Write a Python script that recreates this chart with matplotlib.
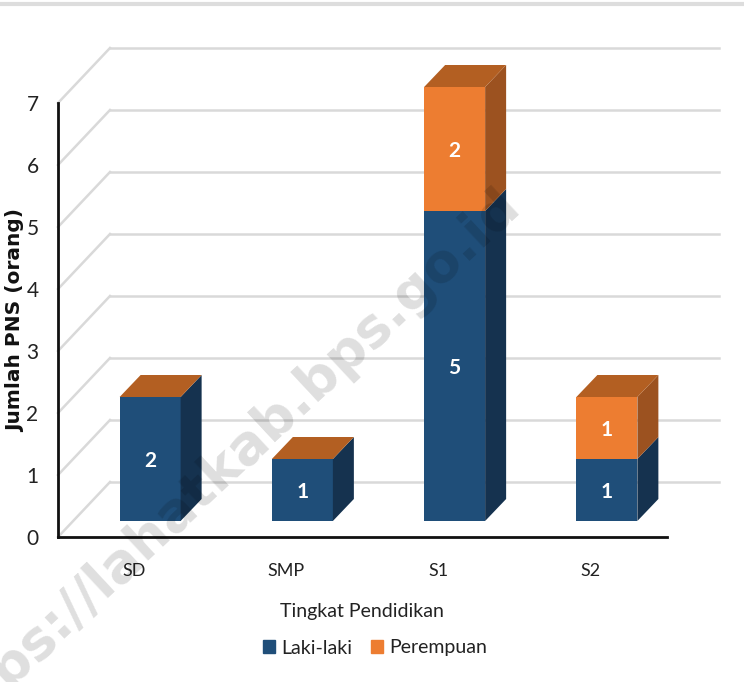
import matplotlib
matplotlib.use('Agg')
import matplotlib.pyplot as plt
from matplotlib.patches import Polygon
from matplotlib.transforms import ScaledTranslation

categories = ['SD', 'SMP', 'S1', 'S2']
laki_laki = [2, 1, 5, 1]
perempuan = [0, 0, 2, 1]
y_ticks = [0, 1, 2, 3, 4, 5, 6, 7]

W, H = 744, 682
plt.rcParams['font.family'] = ['Lato', 'DejaVu Sans']

fig = plt.figure(figsize=(W / 100, H / 100), dpi=100)
# axes box taken from the front axis lines, in pixels
ax = fig.add_axes([58 / W, 1 - 537 / H, 609 / W, 434 / H])
ax.set_xlim(-0.5, 3.5)
ax.set_ylim(0, 7)
ax.patch.set_alpha(0)

px = ax.get_window_extent().width / 4
py = ax.get_window_extent().height / 7


def shifted(dx, dy):
    # pixel shift for the fake 3d look
    return ax.transData + ScaledTranslation(dx / 100, dy / 100, fig.dpi_scale_trans)


# back wall gridlines and the slanted floor/wall lines
wall_dx, wall_dy = 52, 55
wall = shifted(wall_dx, wall_dy)
for v in y_ticks:
    ax.plot([-0.5, 3.5], [v, v], color='#d9d9d9', lw=1.8, transform=wall, clip_on=False, zorder=1)
    ax.plot([-0.5, -0.5 + wall_dx / px], [v, v + wall_dy / py], color='#d9d9d9', lw=1.8,
            clip_on=False, zorder=1)

# bars
front_dx, front_dy = 16, 16
depth_dx, depth_dy = 21, 22
bar_w = 61 / px
front = shifted(front_dx, front_dy)
label_pos = shifted(front_dx, front_dy - 2)
ddx = depth_dx / px
ddy = depth_dy / py


def draw_segment(x, bottom, height, face, side, top=None):
    ax.bar(x, height, bar_w, bottom=bottom, color=face, transform=front, clip_on=False, zorder=3)
    r = x + bar_w / 2
    l = x - bar_w / 2
    ax.add_patch(Polygon([(r, bottom), (r + ddx, bottom + ddy), (r + ddx, bottom + height + ddy),
                          (r, bottom + height)], closed=True, fc=side, ec='none',
                         transform=front, clip_on=False, zorder=3))
    if top is not None:
        t = bottom + height
        ax.add_patch(Polygon([(l, t), (r, t), (r + ddx, t + ddy), (l + ddx, t + ddy)], closed=True,
                             fc=top, ec='none', transform=front, clip_on=False, zorder=4))


for i, cat in enumerate(categories):
    a, b = laki_laki[i], perempuan[i]
    # only the highest segment of a stack shows its top face
    draw_segment(i, 0, a, '#1f4e79', '#15324f', top=None if b else '#b35f22')
    ax.text(i, a / 2, str(a), color='white', fontsize=15, fontweight='bold', ha='center',
            va='center', transform=label_pos, zorder=6)
    if b:
        draw_segment(i, a, b, '#ed7d31', '#9c5220', top='#b35f22')
        ax.text(i, a + b / 2, str(b), color='white', fontsize=15, fontweight='bold', ha='center',
                va='center', transform=label_pos, zorder=6)

# axes lines
for s in ['top', 'right']:
    ax.spines[s].set_visible(False)
ax.spines['left'].set_linewidth(2)
ax.spines['bottom'].set_linewidth(2)
ax.spines['left'].set_color('#111111')
ax.spines['bottom'].set_color('#111111')
ax.set_xticks(range(4))
ax.set_xticklabels(categories)
ax.set_yticks(y_ticks)
ax.tick_params(axis='y', length=0, labelsize=15, colors='#222222', pad=14)
ax.tick_params(axis='x', length=0, labelsize=13, colors='#222222', pad=19)

fig.text(16 / W, 1 - 320 / H, 'Jumlah PNS (orang)', rotation=90, ha='center', va='center',
         fontsize=14.5, fontweight='bold', family=['DejaVu Sans'], color='#111111')
fig.text(362 / W, 1 - 612 / H, 'Tingkat Pendidikan', ha='center', va='center', fontsize=14,
         color='#222222')

handles = [plt.Rectangle((0, 0), 1, 1, color='#1f4e79'), plt.Rectangle((0, 0), 1, 1, color='#ed7d31')]
fig.legend(handles, ['Laki-laki', 'Perempuan'], loc='center', bbox_to_anchor=(375 / W, 1 - 648 / H),
           ncol=2, frameon=False, fontsize=14, handlelength=0.65, handleheight=0.65,
           handletextpad=0.3, columnspacing=0.95, labelcolor='#222222')

# top rule of the page and the watermark
fig.add_artist(plt.Line2D([0, 1], [1 - 4 / H, 1 - 4 / H], color='#dddddd', lw=3))
fig.text(222 / W, 1 - 468 / H, 'https://lahatkab.bps.go.id', rotation=43, ha='center', va='center',
         fontsize=39, fontweight='bold', family=['DejaVu Sans'], color='#000000', alpha=0.13,
         zorder=10, rotation_mode='anchor')

fig.savefig('out.png', dpi=100)
